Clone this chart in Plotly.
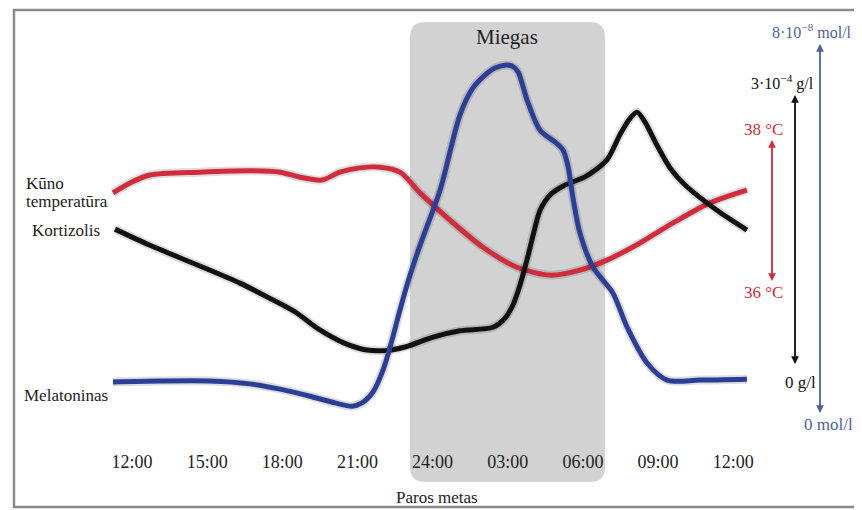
import plotly.graph_objects as go

# Hours of the day (12 = noon, 24 = midnight, 36 = noon next day)
tick_hours = [12, 15, 18, 21, 24, 27, 30, 33, 36]
tick_labels = ["12:00", "15:00", "18:00", "21:00", "24:00", "03:00", "06:00", "09:00", "12:00"]

# Body temperature (°C)
temp_h = [11.24, 11.92, 12.72, 14.71, 16.71, 17.91, 18.71, 19.58, 20.30, 21.10, 21.90,
          22.70, 23.50, 24.69, 26.01, 27.37, 28.69, 29.88, 30.96, 32.28, 33.60, 35.07, 36.55]
temp_v = [37.26, 37.40, 37.51, 37.55, 37.57, 37.55, 37.48, 37.44, 37.55, 37.61, 37.62,
          37.55, 37.26, 36.88, 36.50, 36.22, 36.11, 36.18, 36.32, 36.56, 36.84, 37.12, 37.30]

# Cortisol (1e-4 g/l)
cort_h = [11.32, 12.72, 14.71, 16.31, 17.51, 18.51, 19.50, 20.50, 21.30, 22.10, 22.90, 24.02,
          25.09, 26.41, 26.89, 27.21, 27.49, 27.77, 28.01, 28.29, 28.69, 29.29, 30.08, 30.96,
          31.48, 31.88, 32.16, 32.48, 32.96, 33.48, 34.08, 35.35, 36.55]
cort_v = [1.51, 1.33, 1.10, 0.91, 0.74, 0.59, 0.39, 0.24, 0.17, 0.16, 0.20, 0.31,
          0.38, 0.42, 0.52, 0.67, 0.89, 1.17, 1.44, 1.72, 1.89, 2.00, 2.09, 2.28,
          2.56, 2.74, 2.81, 2.70, 2.44, 2.19, 2.00, 1.72, 1.50]

# Melatonin (1e-8 mol/l)
mel_h = [11.24, 13.12, 15.11, 16.71, 17.91, 19.11, 20.10, 20.78, 21.18, 21.62, 22.02, 22.38,
         22.70, 23.10, 23.50, 24.30, 25.09, 25.61, 26.09, 26.49, 26.89, 27.17, 27.41, 27.77,
         28.29, 28.89, 29.21, 29.41, 29.60, 29.88, 30.40, 31.20, 31.76, 32.56, 33.36, 34.67, 36.55]
mel_v = [0.59, 0.61, 0.61, 0.55, 0.44, 0.29, 0.15, 0.08, 0.15, 0.38, 0.84, 1.47,
         2.11, 2.84, 3.47, 4.63, 6.21, 6.78, 7.05, 7.20, 7.26, 7.24, 7.12, 6.53,
         5.89, 5.64, 5.47, 5.12, 4.48, 3.73, 3.01, 2.46, 1.75, 0.99, 0.63, 0.63, 0.65]

# the page body has an 8px margin, so the figure starts at (8, 8)
OFF = 8
W, H = 862 - OFF, 510 - OFF
FONT = "Liberation Serif"
RED = "#d22b3c"
BLUE = "#2b3f98"
PALEBLUE = "#4f5f9f"
BLACK = "#111111"


def px(x):
    return (x - OFF) / W


def py(y):
    return 1 - (y - OFF) / H


fig = go.Figure()

# soft shadows under the curves
for xs, ys, ax in [(temp_h, temp_v, "y"), (cort_h, cort_v, "y2"), (mel_h, mel_v, "y3")]:
    fig.add_trace(go.Scatter(x=xs, y=ys, yaxis=ax, mode="lines", hoverinfo="skip",
                             line=dict(color="rgba(0,0,0,0.13)", width=9, shape="spline", smoothing=0.8),
                             showlegend=False))

fig.add_trace(go.Scatter(x=temp_h, y=temp_v, yaxis="y", mode="lines", name="Kūno temperatūra",
                         line=dict(color=RED, width=5, shape="spline", smoothing=0.8)))
fig.add_trace(go.Scatter(x=cort_h, y=cort_v, yaxis="y2", mode="lines", name="Kortizolis",
                         line=dict(color=BLACK, width=5, shape="spline", smoothing=0.8)))
fig.add_trace(go.Scatter(x=mel_h, y=mel_v, yaxis="y3", mode="lines", name="Melatoninas",
                         line=dict(color=BLUE, width=5, shape="spline", smoothing=0.8)))

# rounded sleep box
x0, x1, y0, y1 = 410, 605, 22, 482
r = 15
path = (f"M {px(x0 + r)},{py(y0)} L {px(x1 - r)},{py(y0)} Q {px(x1)},{py(y0)} {px(x1)},{py(y0 + r)} "
        f"L {px(x1)},{py(y1 - r)} Q {px(x1)},{py(y1)} {px(x1 - r)},{py(y1)} "
        f"L {px(x0 + r)},{py(y1)} Q {px(x0)},{py(y1)} {px(x0)},{py(y1 - r)} "
        f"L {px(x0)},{py(y0 + r)} Q {px(x0)},{py(y0)} {px(x0 + r)},{py(y0)} Z")
shapes = [
    dict(type="path", path=path, xref="paper", yref="paper", fillcolor="#d2d2d2",
         line=dict(width=0), layer="below"),
    dict(type="rect", xref="paper", yref="paper", x0=px(14), x1=px(880), y0=py(507), y1=py(10),
         line=dict(color="#8a8a8a", width=2.5), layer="below"),
]


def arrow(x, y_tip, y_tail, color):
    return dict(x=px(x), y=py(y_tip), xref="paper", yref="paper", ax=0, ay=y_tail - y_tip,
                axref="pixel", ayref="pixel", showarrow=True, arrowhead=2, arrowsize=1.1,
                arrowwidth=1.4, arrowcolor=color, text="")


# double-headed scale arrows: two full-length arrows pointing opposite ways
annotations = [
    arrow(772, 140, 281, RED), arrow(772, 281, 140, RED),
    arrow(795, 95, 364, BLACK), arrow(795, 364, 95, BLACK),
    arrow(820, 44, 413, PALEBLUE), arrow(820, 413, 44, PALEBLUE),
]


def label(x, y, text, color="#222", size=18, anchor="center"):
    return dict(x=px(x), y=py(y), xref="paper", yref="paper", text=text, showarrow=False,
                xanchor=anchor, yanchor="middle", font=dict(family=FONT, size=size, color=color))


annotations += [
    label(812, 31, "8·10<sup>−8</sup> mol/l", PALEBLUE, size=16),
    label(782, 83, "3·10<sup>−4</sup> g/l", "#111", size=16),
    label(763, 129, "38 °C", RED, size=17),
    label(763, 292, "36 °C", RED, size=17),
    label(800, 382, "0 g/l", "#111", size=17),
    label(828, 424, "0 mol/l", PALEBLUE, size=17),
    label(24, 183, "Kūno", anchor="left", size=17),
    label(24, 201, "temperatūra", anchor="left", size=17),
    label(30, 230, "Kortizolis", anchor="left", size=17),
    label(22, 395, "Melatoninas", anchor="left", size=17),
    label(507, 37, "Miegas", size=21),
    label(437, 497, "Paros metas", size=17),
]

fig.update_layout(
    width=W, height=H,
    margin=dict(l=0, r=0, t=0, b=0),
    paper_bgcolor="white", plot_bgcolor="rgba(0,0,0,0)",
    showlegend=False,
    shapes=shapes,
    annotations=annotations,
    xaxis=dict(range=[7.050, 41.142], domain=[0, 1], anchor="free", position=py(449),
               tickvals=tick_hours, ticktext=tick_labels, showgrid=False, zeroline=False,
               showline=False, ticks="", tickfont=dict(family=FONT, size=18, color="#222")),
    yaxis=dict(range=[32.825, 39.846], visible=False),
    yaxis2=dict(range=[-1.611, 3.967], overlaying="y", visible=False),
    yaxis3=dict(range=[-2.105, 8.463], overlaying="y", visible=False),
)

fig.write_html("out.html")
